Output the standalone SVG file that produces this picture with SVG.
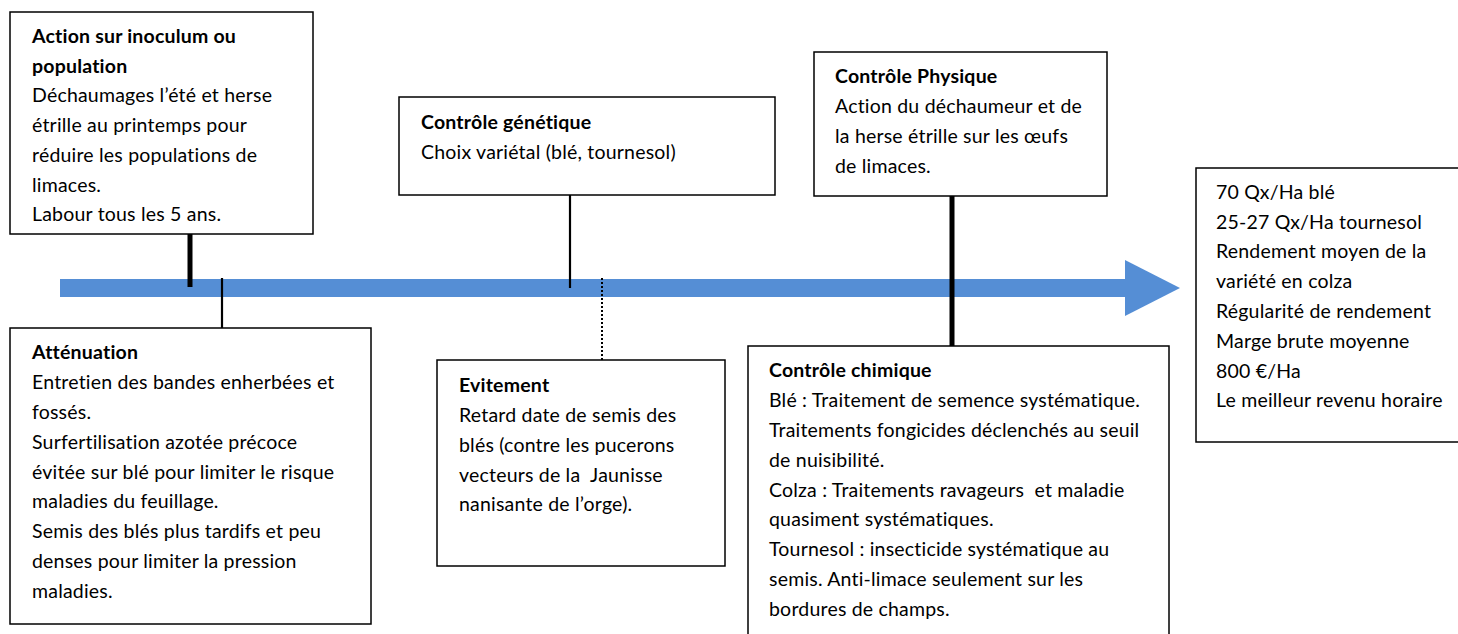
<svg xmlns="http://www.w3.org/2000/svg" width="1458" height="634" viewBox="0 0 1458 634">
  <style>
    .box { fill: #ffffff; stroke: #000000; stroke-width: 1.5; }
    text { font-family: Lato, "Open Sans", "Liberation Sans", sans-serif; font-size: 19.5px; letter-spacing: 0.2px; fill: #000000; }
    .h { font-weight: bold; }
    .thick { stroke: #000000; stroke-width: 5; }
    .thin { stroke: #000000; stroke-width: 2.2; }
    .dot { stroke: #000000; stroke-width: 2; stroke-dasharray: 2 2; }
  </style>

  <!-- timeline arrow -->
  <g id="timeline">
    <rect x="60" y="279" width="1066" height="18" fill="#558ED5"/>
    <polygon points="1125,260 1180,288 1125,316" fill="#558ED5"/>
  </g>

  <!-- connectors between the boxes and the timeline -->
  <g id="connectors">
    <line class="thick" x1="190" y1="234" x2="190" y2="287"/>
    <line class="thin" x1="222" y1="278" x2="222" y2="328"/>
    <line class="thin" x1="570" y1="195" x2="570" y2="288"/>
    <line class="dot" x1="602" y1="278" x2="602" y2="370"/>
    <line class="thick" x1="952" y1="196" x2="952" y2="346"/>
  </g>

  <g id="inoculum">
    <rect class="box" x="10" y="12" width="303" height="222"/>
    <text x="32" y="43" class="h">Action sur inoculum ou</text>
    <text x="32" y="72.5" class="h">population</text>
    <text x="32" y="102">Déchaumages l’été et herse</text>
    <text x="32" y="132">étrille au printemps pour</text>
    <text x="32" y="162">réduire les populations de</text>
    <text x="32" y="191.5">limaces.</text>
    <text x="32" y="221">Labour tous les 5 ans.</text>
  </g>

  <g id="attenuation">
    <rect class="box" x="10" y="328" width="361" height="296"/>
    <text x="32" y="359" class="h">Atténuation</text>
    <text x="32" y="389">Entretien des bandes enherbées et</text>
    <text x="32" y="419">fossés.</text>
    <text x="32" y="449">Surfertilisation azotée précoce</text>
    <text x="32" y="479">évitée sur blé pour limiter le risque</text>
    <text x="32" y="508">maladies du feuillage.</text>
    <text x="32" y="538">Semis des blés plus tardifs et peu</text>
    <text x="32" y="568">denses pour limiter la pression</text>
    <text x="32" y="598">maladies.</text>
  </g>

  <g id="genetique">
    <rect class="box" x="399" y="97" width="376" height="98"/>
    <text x="421" y="129" class="h">Contrôle génétique</text>
    <text x="421" y="159">Choix variétal (blé, tournesol)</text>
  </g>

  <g id="evitement">
    <rect class="box" x="437" y="360" width="288" height="206"/>
    <text x="459" y="391.5" class="h">Evitement</text>
    <text x="459" y="421.5">Retard date de semis des</text>
    <text x="459" y="451.5">blés (contre les pucerons</text>
    <text x="459" y="481.5" xml:space="preserve">vecteurs de la  Jaunisse</text>
    <text x="459" y="510.5">nanisante de l’orge).</text>
  </g>

  <g id="physique">
    <rect class="box" x="814" y="52" width="293" height="144"/>
    <text x="835" y="82.5" class="h">Contrôle Physique</text>
    <text x="835" y="112.5">Action du déchaumeur et de</text>
    <text x="835" y="142.5">la herse étrille sur les œufs</text>
    <text x="835" y="172.5">de limaces.</text>
  </g>

  <g id="chimique">
    <rect class="box" x="748" y="346" width="421" height="300"/>
    <text x="769" y="376.5" class="h">Contrôle chimique</text>
    <text x="769" y="406.5">Blé : Traitement de semence systématique.</text>
    <text x="769" y="436.5">Traitements fongicides déclenchés au seuil</text>
    <text x="769" y="466.5">de nuisibilité.</text>
    <text x="769" y="496.5" xml:space="preserve">Colza : Traitements ravageurs  et maladie</text>
    <text x="769" y="526">quasiment systématiques.</text>
    <text x="769" y="556">Tournesol : insecticide systématique au</text>
    <text x="769" y="586">semis. Anti-limace seulement sur les</text>
    <text x="769" y="616">bordures de champs.</text>
  </g>

  <g id="resultats">
    <rect class="box" x="1196" y="168" width="270" height="274"/>
    <text x="1216" y="198.5">70 Qx/Ha blé</text>
    <text x="1216" y="228.5">25-27 Qx/Ha tournesol</text>
    <text x="1216" y="258">Rendement moyen de la</text>
    <text x="1216" y="287.5">variété en colza</text>
    <text x="1216" y="318">Régularité de rendement</text>
    <text x="1216" y="348">Marge brute moyenne</text>
    <text x="1216" y="378">800 €/Ha</text>
    <text x="1216" y="407">Le meilleur revenu horaire</text>
  </g>
</svg>
